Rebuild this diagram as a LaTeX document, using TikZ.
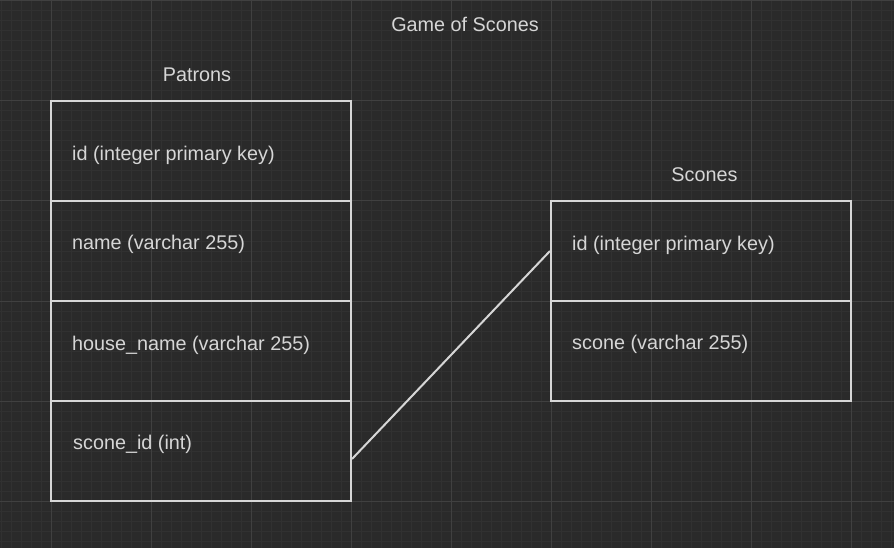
\documentclass[tikz,border=0pt]{standalone}
\usepackage{fontspec}
\setmainfont{Liberation Sans}
\definecolor{bgc}{HTML}{2A2A2A}
\definecolor{minorc}{HTML}{313131}
\definecolor{majorc}{HTML}{404040}
\definecolor{linec}{HTML}{D6D6D6}
\definecolor{textc}{HTML}{D6D6D6}
\begin{document}
\begin{tikzpicture}[x=1pt,y=-1pt,
  row/.style={draw=linec,line width=2pt,minimum width=300pt,minimum height=100pt,inner sep=0pt},
  lbl/.style={text=textc,font=\fontsize{19.8}{22}\selectfont,inner sep=0pt},
  fld/.style={lbl,anchor=west},
  conn/.style={draw=linec,line width=2pt}]
\useasboundingbox (0,0) rectangle (894,548);
\fill[bgc] (0,0) rectangle (894,548);
\foreach \i in {1,11,...,891} \draw[minorc,line width=1pt] (\i,0) -- (\i,548);
\foreach \j in {1,11,...,541} \draw[minorc,line width=1pt] (0,\j) -- (894,\j);
\foreach \i in {51,151,...,851} \draw[majorc,line width=1pt] (\i,0) -- (\i,548);
\foreach \j in {1,101,...,501} \draw[majorc,line width=1pt] (0,\j) -- (894,\j);

\node[lbl] (title) at (465,24) {Game of Scones};
\node[lbl] (ptitle) at (197,75) {Patrons};
\node[lbl] (stitle) at (704.5,175) {Scones};

\node[row] (p1) at (201,151) {};
\node[row] (p2) at (201,251) {};
\node[row] (p3) at (201,351) {};
\node[row] (p4) at (201,451) {};
\node[row] (s1) at (701,251) {};
\node[row] (s2) at (701,351) {};

\node[fld] (p1t) at (72,155.5) {id (integer primary key)};
\node[fld] (p2t) at (72,244.5) {name (varchar 255)};
\node[fld] (p3t) at (72,345.5) {house\_name (varchar 255)};
\node[fld] (p4t) at (73,444.5) {scone\_id (int)};
\node[fld] (s1t) at (572,245.5) {id (integer primary key)};
\node[fld] (s2t) at (572,344.5) {scone (varchar 255)};

\draw[conn] ([yshift=-8pt]p4.east) -- (s1.west);
\end{tikzpicture}
\end{document}
